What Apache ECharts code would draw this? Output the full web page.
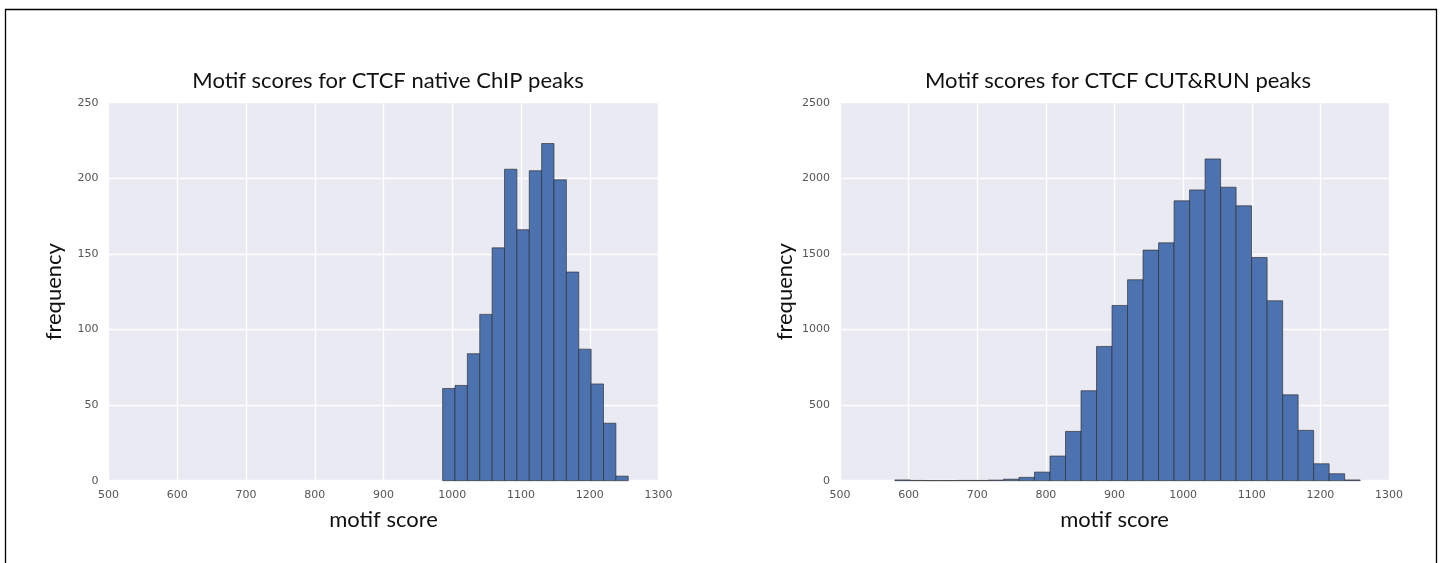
<!DOCTYPE html>
<html>
<head>
<meta charset="utf-8">
<script src="https://cdn.jsdelivr.net/npm/echarts@6/dist/echarts.min.js"></script>
<style>
html,body{margin:0;padding:0;background:#fff;}
#chart{width:1443px;height:563px;}
</style>
</head>
<body>
<div id="chart"></div>
<script>
// ---- data ----
const xTicksMin = 500, xTicksMax = 1300, xTickStep = 100;

const leftTitle = 'Motif scores for CTCF native ChIP peaks';
const leftEdges = [986, 1004, 1022, 1040, 1058, 1076, 1094, 1112, 1130, 1148, 1166, 1184, 1202, 1220, 1238, 1256];
const leftCounts = [61, 63, 84, 110, 154, 206, 166, 205, 223, 199, 138, 87, 64, 38, 3];
const leftYMax = 250, leftYStep = 50;

const rightTitle = 'Motif scores for CTCF CUT&RUN peaks';
const rightEdges = [580, 602.6, 625.2, 647.8, 670.4, 693, 715.6, 738.2, 760.8, 783.4, 806, 828.6, 851.2, 873.8,
  896.4, 919, 941.6, 964.2, 986.8, 1009.4, 1032, 1054.6, 1077.2, 1099.8, 1122.4, 1145, 1167.6, 1190.2, 1212.8, 1235.4, 1258];
const rightCounts = [5, 2, 1, 1, 2, 2, 4, 10, 22, 57, 163, 326, 595, 888, 1159, 1329, 1525, 1573, 1851, 1923,
  2128, 1941, 1818, 1476, 1190, 568, 333, 112, 46, 5];
const rightYMax = 2500, rightYStep = 500;

const xLabel = 'motif score';
const yLabel = 'frequency';

// ---- chart ----
function toBins(edges, counts) {
  return counts.map((c, i) => [edges[i], edges[i + 1], c]);
}

const fillColor = '#4C72B0';
const edgeColor = 'rgba(45,45,45,0.65)';
const tickFont = { color: '#555', fontSize: 11, fontFamily: 'DejaVu Sans' };
const labelFont = { color: '#111', fontSize: 22, fontFamily: 'Lato' };
const plainNum = v => String(v);

function renderBar(params, api) {
  const p0 = api.coord([api.value(0), api.value(2)]);
  const p1 = api.coord([api.value(1), 0]);
  return {
    type: 'rect',
    shape: { x: p0[0], y: p0[1], width: p1[0] - p0[0], height: p1[1] - p0[1] },
    style: { fill: fillColor, stroke: edgeColor, lineWidth: 1 }
  };
}

function xAxisCfg(idx) {
  return {
    gridIndex: idx, type: 'value', min: xTicksMin, max: xTicksMax, interval: xTickStep,
    axisLine: { show: false }, axisTick: { show: false },
    axisLabel: Object.assign({ margin: 9, formatter: plainNum }, tickFont),
    splitLine: { show: true, lineStyle: { color: '#ffffff', width: 1.3 } },
    name: xLabel, nameLocation: 'middle', nameGap: 28, nameTextStyle: labelFont
  };
}
function yAxisCfg(idx, max, step) {
  return {
    gridIndex: idx, type: 'value', min: 0, max: max, interval: step,
    axisLine: { show: false }, axisTick: { show: false },
    axisLabel: Object.assign({ margin: 10, formatter: plainNum }, tickFont),
    splitLine: { show: true, lineStyle: { color: '#ffffff', width: 1.3 } },
    name: yLabel, nameLocation: 'middle', nameGap: 44, nameTextStyle: labelFont
  };
}

const chart = echarts.init(document.getElementById('chart'), null, { renderer: 'canvas' });
chart.setOption({
  backgroundColor: '#ffffff',
  animation: false,
  title: [
    { text: leftTitle, left: 383, top: 65, textAlign: 'center', textStyle: Object.assign({ fontWeight: 'normal' }, labelFont) },
    { text: rightTitle, left: 1113, top: 65, textAlign: 'center', textStyle: Object.assign({ fontWeight: 'normal' }, labelFont) }
  ],
  grid: [
    { left: 108.5, top: 102.7, width: 550, height: 378, show: true, backgroundColor: '#EAEAF2', borderWidth: 0 },
    { left: 840, top: 102.7, width: 549, height: 378, show: true, backgroundColor: '#EAEAF2', borderWidth: 0 }
  ],
  xAxis: [xAxisCfg(0), xAxisCfg(1)],
  yAxis: [yAxisCfg(0, leftYMax, leftYStep), yAxisCfg(1, rightYMax, rightYStep)],
  series: [
    { type: 'custom', xAxisIndex: 0, yAxisIndex: 0, renderItem: renderBar,
      encode: { x: [0, 1], y: 2 }, data: toBins(leftEdges, leftCounts), z: 3 },
    { type: 'custom', xAxisIndex: 1, yAxisIndex: 1, renderItem: renderBar,
      encode: { x: [0, 1], y: 2 }, data: toBins(rightEdges, rightCounts), z: 3 }
  ],
  graphic: [
    { type: 'rect', shape: { x: 5.5, y: 9.5, width: 1431, height: 600 },
      style: { fill: 'none', stroke: '#000', lineWidth: 1.3 }, silent: true, z: 100 }
  ]
});
</script>
</body>
</html>
